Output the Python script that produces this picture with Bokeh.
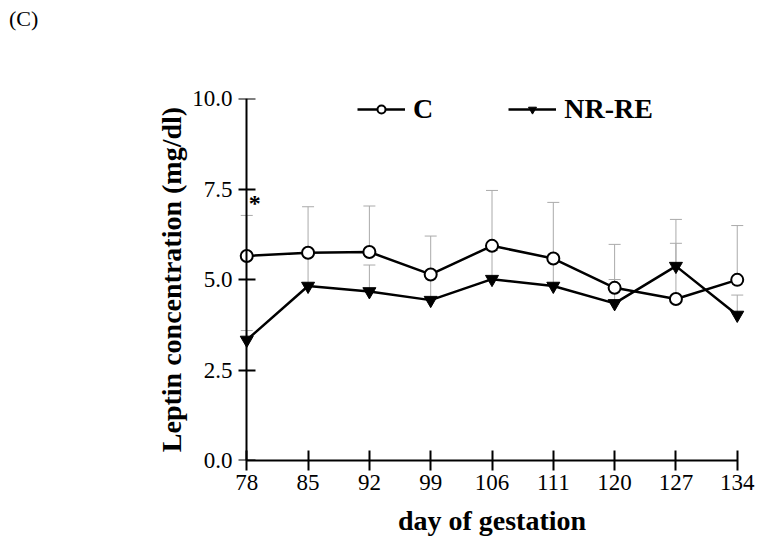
from bokeh.plotting import figure
from bokeh.layouts import column
from bokeh.models import (ColumnDataSource, Range1d, FixedTicker, Whisker, TeeHead, Div,
                          Legend, LegendItem, Label, NumeralTickFormatter, LinearAxis)
from bokeh.embed import file_html
from bokeh.resources import INLINE

# ---- data ----
days = ["78", "85", "92", "99", "106", "111", "120", "127", "134"]
c_mean = [5.65, 5.74, 5.76, 5.14, 5.93, 5.58, 4.77, 4.46, 4.99]
c_upper = [6.77, 7.01, 7.03, 6.20, 7.46, 7.13, 5.97, 6.66, 6.49]
nr_mean = [3.33, 4.82, 4.67, 4.43, 5.01, 4.82, 4.34, 5.37, 4.02]
nr_upper = [3.59, 5.70, 5.40, 5.10, 5.80, 5.50, 5.00, 6.00, 4.57]
y_ticks = [0, 2.5, 5.0, 7.5, 10.0]
sig_day_index = 0
sig_level = 7.11

xs = list(range(len(days)))
src_c = ColumnDataSource(dict(x=xs, y=c_mean, up=c_upper))
src_n = ColumnDataSource(dict(x=xs, y=nr_mean, up=nr_upper))

SERIF = "Liberation Serif"
W = 756
TOP = 63
H = TOP + 363 + 77

p = figure(width=W, height=H, output_backend="svg", toolbar_location=None,
           x_range=Range1d(-0.2, len(days) - 1 + 0.2), y_range=Range1d(0, 10),
           min_border_left=234, min_border_right=7, min_border_top=TOP,
           min_border_bottom=77)
p.outline_line_color = None
p.xgrid.visible = False
p.ygrid.visible = False
p.background_fill_color = "white"

# error bars (upper only)
for src in (src_c, src_n):
    w = Whisker(source=src, base="x", lower="y", upper="up", dimension="height",
                line_color="#aaaaaa", line_width=1, level="underlay",
                upper_head=TeeHead(size=12, line_color="#aaaaaa", line_width=1),
                lower_head=None)
    p.add_layout(w)

lc = p.line("x", "y", source=src_c, line_color="black", line_width=2.5)
sc = p.scatter("x", "y", source=src_c, marker="circle", size=12,
               fill_color="white", line_color="black", line_width=2)
ln = p.line("x", "y", source=src_n, line_color="black", line_width=2.5)
sn = p.scatter("x", "y", source=src_n, marker="inverted_triangle", size=13,
               fill_color="black", line_color="black")

# x axis
xa = p.xaxis[0]
xa.ticker = FixedTicker(ticks=xs)
xa.major_label_overrides = {i: d for i, d in enumerate(days)}
xa.bounds = (0, len(days) - 1)
xa.minor_tick_line_color = None
xa.major_tick_in = 10
xa.major_tick_out = 10
xa.axis_line_width = 2
xa.major_tick_line_width = 2
xa.major_label_text_font = SERIF
xa.major_label_text_font_size = "23px"
xa.major_label_text_color = "black"
xa.major_label_standoff = 4
xa.axis_label = "day of gestation"
xa.axis_label_text_font = SERIF
xa.axis_label_text_font_size = "28px"
xa.axis_label_text_font_style = "bold"
xa.axis_label_text_color = "black"
xa.axis_label_standoff = 12

# y axis: labels at the frame edge
ya = p.yaxis[0]
ya.ticker = FixedTicker(ticks=y_ticks)
ya.formatter = NumeralTickFormatter(format="0.0")
ya.axis_line_color = None
ya.major_tick_line_color = None
ya.minor_tick_line_color = None
ya.major_tick_in = 0
ya.major_tick_out = 0
ya.major_label_text_font = SERIF
ya.major_label_text_font_size = "23px"
ya.major_label_text_color = "black"
ya.major_label_standoff = 2
ya.axis_label = "Leptin concentration (mg/dl)"
ya.axis_label_text_font = SERIF
ya.axis_label_text_font_size = "28px"
ya.axis_label_text_font_style = "bold"
ya.axis_label_text_color = "black"
ya.axis_label_standoff = 2

# y axis line and ticks at the first day
ya2 = LinearAxis(ticker=FixedTicker(ticks=y_ticks), fixed_location=0, bounds=(0, 10),
                 major_label_overrides={t: "" for t in y_ticks},
                 major_label_text_font_size="1px",
                 minor_tick_line_color=None, major_tick_in=9, major_tick_out=8,
                 axis_line_width=2, major_tick_line_width=2)
p.add_layout(ya2, "left")

# significance mark
p.add_layout(Label(x=sig_day_index, y=sig_level, text="*", x_offset=8,
                   text_align="center", text_baseline="alphabetic", text_color="black",
                   text_font=SERIF, text_font_size="24px", text_font_style="bold"))

legend = Legend(items=[LegendItem(label="C", renderers=[lc, sc]),
                       LegendItem(label="NR-RE", renderers=[ln, sn])],
                orientation="horizontal", location=(123, 335),
                padding=0, margin=0, spacing=75, glyph_width=48, glyph_height=20,
                label_standoff=8, border_line_color=None, background_fill_alpha=0,
                label_text_font=SERIF, label_text_font_size="28px",
                label_text_color="black", label_text_font_style="bold")
p.add_layout(legend)

# panel label
panel = Div(text="(C)", width=120, height=25,
            styles={"font-family": "'Liberation Serif'", "font-size": "22px",
                    "color": "black", "line-height": "1.15",
                    "padding-left": "4px", "padding-top": "1px"})

layout = column(panel, p, spacing=0)
open("out.html", "w").write(file_html(layout, INLINE))
